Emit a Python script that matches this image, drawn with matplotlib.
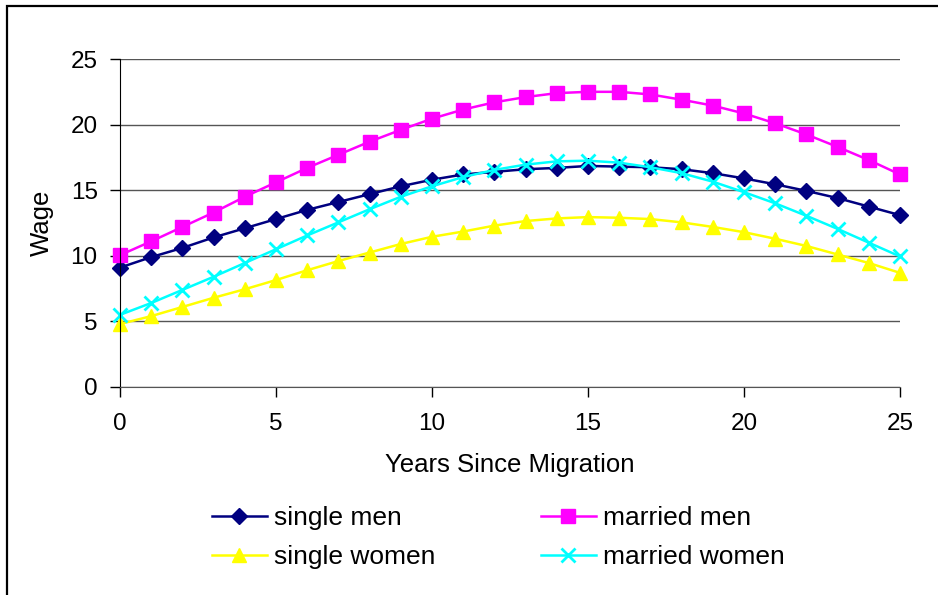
import matplotlib
matplotlib.use('Agg')
import matplotlib.pyplot as plt
from matplotlib.patches import Rectangle

plt.rcParams['font.family'] = ['Liberation Sans', 'DejaVu Sans']

# Years since migration and predicted wage for each group
years = list(range(0, 26))
single_men = [9.1, 9.9, 10.6, 11.4, 12.1, 12.8, 13.5, 14.1, 14.7, 15.3, 15.8, 16.2, 16.4,
              16.6, 16.7, 16.85, 16.8, 16.75, 16.6, 16.3, 15.9, 15.45, 14.95, 14.4, 13.75, 13.1]
married_men = [10.05, 11.1, 12.2, 13.3, 14.5, 15.6, 16.7, 17.7, 18.7, 19.6, 20.45, 21.15, 21.7,
               22.1, 22.4, 22.5, 22.5, 22.3, 21.9, 21.45, 20.85, 20.1, 19.25, 18.3, 17.3, 16.2]
single_women = [4.8, 5.4, 6.1, 6.8, 7.45, 8.15, 8.9, 9.6, 10.25, 10.9, 11.45, 11.85, 12.3,
                12.65, 12.85, 12.95, 12.9, 12.8, 12.55, 12.2, 11.8, 11.3, 10.75, 10.1, 9.45, 8.7]
married_women = [5.5, 6.4, 7.4, 8.4, 9.45, 10.5, 11.55, 12.55, 13.55, 14.5, 15.3, 16.0, 16.55,
                 16.95, 17.2, 17.25, 17.1, 16.75, 16.3, 15.65, 14.85, 14.0, 13.05, 12.05, 11.0, 9.95]

fig = plt.figure(figsize=(9.38, 5.95), dpi=100)
ax = fig.add_axes([0.1279, 0.3496, 0.8316, 0.5512])

l1, = ax.plot(years, single_men, '-D', color='#000080', lw=1.8, ms=8, label='single men')
l2, = ax.plot(years, married_men, '-s', color='#FF00FF', lw=1.8, ms=9.5, label='married men')
l3, = ax.plot(years, single_women, '-^', color='#FFFF00', lw=1.8, ms=10.5, label='single women')
l4, = ax.plot(years, married_women, '-x', color='#00FFFF', lw=1.8, ms=10, mew=2,
              label='married women')

ax.set_xlim(0, 25)
ax.set_ylim(0, 25)
ax.set_xticks(range(0, 26, 5))
ax.set_yticks(range(0, 26, 5))
ax.yaxis.grid(True, color='#555555', lw=1)
ax.set_axisbelow(True)
for s in ['top', 'right']:
    ax.spines[s].set_visible(False)
ax.spines['left'].set_color('black')
ax.spines['bottom'].set_color('#555555')
ax.tick_params(axis='both', labelsize=17.5, length=7, direction='out', width=1)
ax.tick_params(axis='y', pad=9)
ax.tick_params(axis='x', pad=12)
for line in (l1, l2, l3, l4):
    line.set_clip_on(False)

ax.set_xlabel('Years Since Migration', fontsize=18.5, labelpad=13)
ax.set_ylabel('Wage', fontsize=18.5, labelpad=12)

# two-column legend under the axes
fig.legend([l1, l3, l2, l4], ['single men', 'single women', 'married men', 'married women'],
           ncol=2, loc='center', bbox_to_anchor=(0.531, 0.0966), frameon=False, fontsize=19,
           handlelength=2.1, handletextpad=0.25, columnspacing=4.0, labelspacing=0.58)

# chart border
fig.add_artist(Rectangle((0.0075, -0.05), 1.2, 1.04, transform=fig.transFigure,
                         fill=False, edgecolor='black', lw=1.6, clip_on=False))

fig.savefig('out.png', dpi=100)
